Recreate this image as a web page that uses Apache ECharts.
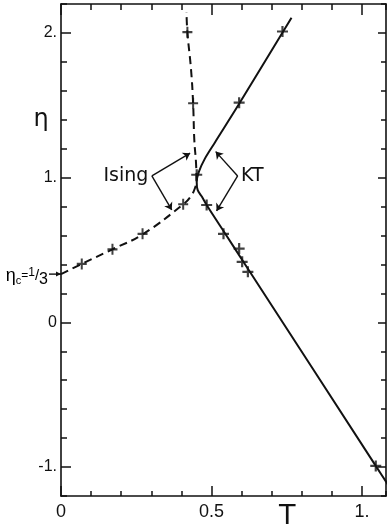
<!DOCTYPE html>
<html>
<head>
<meta charset="utf-8">
<script src="https://cdn.jsdelivr.net/npm/echarts@6/dist/echarts.min.js"></script>
<style>
  html, body { margin: 0; padding: 0; background: #fff; }
  #chart { width: 387px; height: 527px; }
</style>
</head>
<body>
<div id="chart"></div>
<script>
// Ising transition line (dashed), traced as (T, eta)
const isingLineT   = [0, 0.069, 0.171, 0.271, 0.406, 0.430, 0.445, 0.450, 0.449, 0.443, 0.439, 0.432, 0.420, 0.417];
const isingLineEta = [0.333, 0.404, 0.505, 0.608, 0.815, 0.867, 0.927, 0.984, 1.088, 1.26, 1.514, 1.75, 2.005, 2.145];
// Ising data points
const isingPtT   = [0.069, 0.171, 0.271, 0.406, 0.439, 0.420];
const isingPtEta = [0.404, 0.505, 0.612, 0.816, 1.514, 2.005];

// Kosterlitz-Thouless line (solid)
const ktLineT   = [0.766, 0.592, 0.512, 0.479, 0.458, 0.451, 0.454, 0.468, 0.484, 0.54, 0.62, 1.046, 1.09];
const ktLineEta = [2.105, 1.51, 1.245, 1.135, 1.04, 0.97, 0.915, 0.869, 0.811, 0.631, 0.374, -0.992, -1.133];
// KT data points
const ktPtT   = [0.736, 0.592, 0.451, 0.484, 0.54, 0.592, 0.602, 0.621, 1.046];
const ktPtEta = [2.01, 1.518, 1.02, 0.811, 0.612, 0.51, 0.418, 0.349, -0.992];

// Axis ticks and labels
const tMajor = [0, 0.5, 1];
const tLabels = ['0', '0.5', '1.'];
const etaMajor = [-1, 0, 1, 2];
const etaLabels = ['-1.', '0', '1.', '2.'];

const T_MIN = 0, T_MAX = 1.08, ETA_MIN = -1.2, ETA_MAX = 2.2;
const FONT = 'DejaVu Sans';
const NUM_FONT = 'Liberation Sans';
const INK = '#111';

const zip = (a, b) => a.map((v, i) => [v, b[i]]);
const plus = 'path://M4,0H6V4H10V6H6V10H4V6H0V4H4Z';

function xAxisDef(pos, major) {
  const base = {
    type: 'value', position: pos, min: T_MIN, max: T_MAX,
    splitLine: { show: false },
    axisLine: { show: major, onZero: false, lineStyle: { color: INK, width: 1.6 } },
    axisTick: { show: true, inside: true, lineStyle: { color: INK, width: 1.5 } },
    axisLabel: { show: false }
  };
  if (major) {
    base.interval = 0.5;
    base.axisTick.customValues = tMajor;
    base.axisTick.length = pos === 'bottom' ? 10 : 11;
    if (pos === 'bottom') {
      base.axisLabel = {
        show: true, customValues: tMajor, margin: 7,
        fontFamily: NUM_FONT, fontSize: 18, color: INK,
        formatter: v => { const i = tMajor.indexOf(Math.round(v * 10) / 10); return i < 0 ? '' : tLabels[i]; }
      };
    }
  } else {
    base.interval = 0.1;
    base.axisTick.length = pos === 'bottom' ? 5 : 6;
  }
  return base;
}

function yAxisDef(pos, major) {
  const base = {
    type: 'value', position: pos, min: ETA_MIN, max: ETA_MAX,
    splitLine: { show: false },
    axisLine: { show: major, onZero: false, lineStyle: { color: INK, width: 1.6 } },
    axisTick: { show: true, inside: true, lineStyle: { color: INK, width: 1.5 } },
    axisLabel: { show: false }
  };
  if (major) {
    base.interval = 0.2;
    base.axisTick.customValues = etaMajor;
    base.axisTick.length = pos === 'left' ? 10 : 8;
    if (pos === 'left') {
      base.axisLabel = {
        show: true, customValues: etaMajor, margin: 4,
        fontFamily: NUM_FONT, fontSize: 16, color: INK,
        formatter: v => { const i = etaMajor.indexOf(Math.round(v)); return i < 0 ? '' : etaLabels[i]; }
      };
    }
  } else {
    base.interval = 0.2;
    base.axisTick.length = pos === 'left' ? 6 : 5;
  }
  return base;
}

const chart = echarts.init(document.getElementById('chart'), null, { renderer: 'canvas' });

const arrowLine = (a, b) => [{ coord: a }, { coord: b }];

chart.setOption({
  animation: false,
  backgroundColor: '#fff',
  grid: { left: 61, right: 1, top: 4, bottom: 31, containLabel: false },
  xAxis: [xAxisDef('bottom', true), xAxisDef('bottom', false), xAxisDef('top', true), xAxisDef('top', false)],
  yAxis: [yAxisDef('left', true), yAxisDef('left', false), yAxisDef('right', true), yAxisDef('right', false)],
  series: [
    {
      name: 'Ising', type: 'line', xAxisIndex: 0, yAxisIndex: 0,
      data: zip(isingLineT, isingLineEta), showSymbol: false, smooth: 0.45,
      lineStyle: { color: INK, width: 2, type: [8, 5] }, silent: true
    },
    {
      name: 'KT', type: 'line', xAxisIndex: 0, yAxisIndex: 0,
      data: zip(ktLineT, ktLineEta), showSymbol: false, smooth: 0.3,
      lineStyle: { color: INK, width: 2 }, silent: true
    },
    {
      name: 'Ising points', type: 'scatter', xAxisIndex: 0, yAxisIndex: 0,
      data: zip(isingPtT, isingPtEta), symbol: plus, symbolSize: [10, 11],
      itemStyle: { color: INK }, silent: true,
      markLine: {
        silent: true, symbol: ['none', 'arrow'], symbolSize: 7,
        label: { show: false },
        lineStyle: { color: INK, width: 1.4, type: 'solid' },
        data: [
          arrowLine([0.302, 1.012], [0.429, 1.169]),
          arrowLine([0.302, 1.012], [0.368, 0.777])
        ]
      }
    },
    {
      name: 'KT points', type: 'scatter', xAxisIndex: 0, yAxisIndex: 0,
      data: zip(ktPtT, ktPtEta), symbol: plus, symbolSize: [11, 11],
      itemStyle: { color: INK }, silent: true,
      markLine: {
        silent: true, symbol: ['none', 'arrow'], symbolSize: 7,
        label: { show: false },
        lineStyle: { color: INK, width: 1.4, type: 'solid' },
        data: [
          arrowLine([0.587, 1.012], [0.514, 1.18]),
          arrowLine([0.587, 1.012], [0.517, 0.77])
        ]
      }
    }
  ]
});

// Text annotations placed in data space
const px = (t, e) => chart.convertToPixel({ xAxisIndex: 0, yAxisIndex: 0 }, [t, e]);
const pIsing = px(0.29, 1.012);
const pKT = px(0.598, 1.012);
const pEtaC = px(0, 1 / 3);
const pTname = px(0.752, ETA_MIN);

chart.setOption({
  graphic: [
    { type: 'text', x: pIsing[0], y: pIsing[1], silent: true,
      style: { text: 'Ising', fontFamily: FONT, fontSize: 19, fill: INK, align: 'right', verticalAlign: 'middle' } },
    { type: 'text', x: pKT[0], y: pKT[1], silent: true,
      style: { text: 'KT', fontFamily: FONT, fontSize: 19, fill: INK, align: 'left', verticalAlign: 'middle' } },
    { type: 'text', x: pTname[0], y: pTname[1] + 7, silent: true,
      style: { text: 'T', fontFamily: FONT, fontSize: 27, fill: INK, align: 'center', verticalAlign: 'top' } },
    { type: 'text', x: 41, y: 120, silent: true,
      style: { text: 'η', fontFamily: FONT, fontSize: 24, fill: INK, align: 'center', verticalAlign: 'middle' } },
    { type: 'text', x: pEtaC[0] - 13, y: pEtaC[1] + 2, silent: true,
      style: {
        text: '{e|η}{s|c}{q|=}{n|1}{sl|/}{d|3}',
        align: 'right', verticalAlign: 'middle',
        rich: {
          e: { fontFamily: NUM_FONT, fontSize: 18, color: INK },
          s: { fontFamily: NUM_FONT, fontSize: 11, color: INK, padding: [9, 0, 0, 0] },
          q: { fontFamily: NUM_FONT, fontSize: 12, color: INK },
          n: { fontFamily: NUM_FONT, fontSize: 12, color: INK, padding: [0, 0, 7, 0] },
          sl: { fontFamily: NUM_FONT, fontSize: 15, color: INK },
          d: { fontFamily: NUM_FONT, fontSize: 16, color: INK, padding: [6, 0, 0, 0] }
        }
      } },
    { type: 'line', silent: true,
      shape: { x1: pEtaC[0] - 12, y1: pEtaC[1], x2: pEtaC[0], y2: pEtaC[1] },
      style: { stroke: INK, lineWidth: 1.4 } },
    { type: 'polygon', silent: true,
      shape: { points: [[pEtaC[0], pEtaC[1]], [pEtaC[0] - 5, pEtaC[1] - 2.5], [pEtaC[0] - 5, pEtaC[1] + 2.5]] },
      style: { fill: INK } }
  ]
});
</script>
</body>
</html>
